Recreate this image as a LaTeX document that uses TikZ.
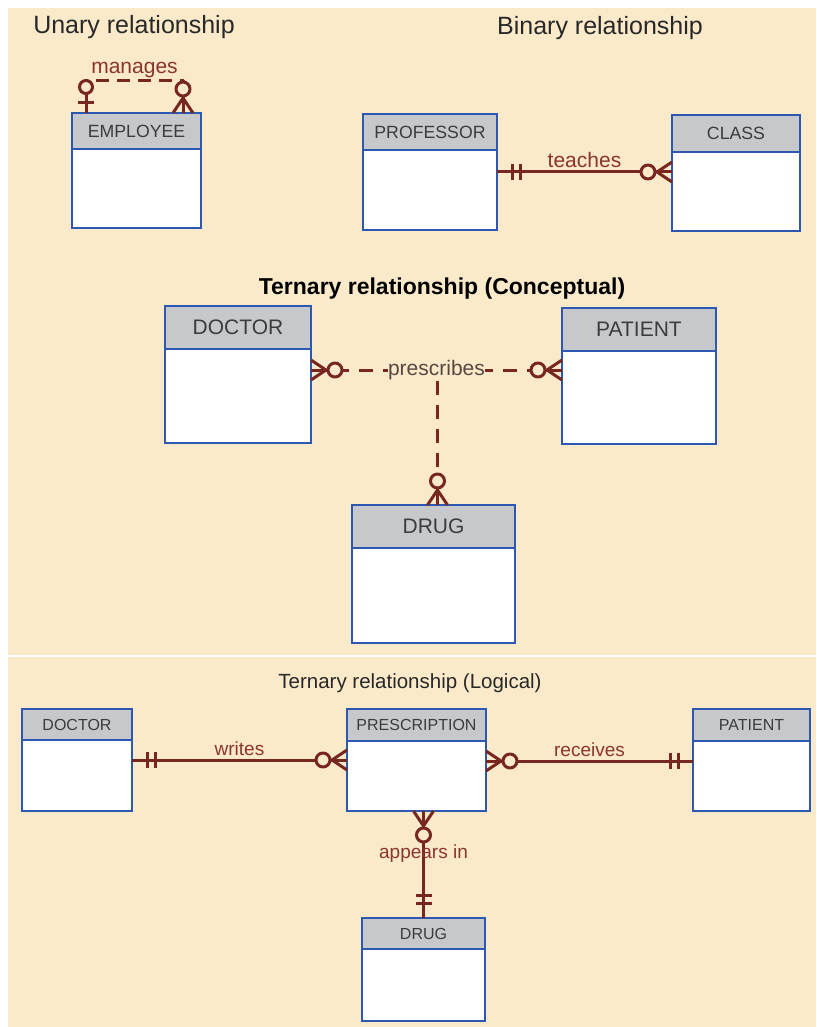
\documentclass[tikz,border=0pt]{standalone}
\usepackage{fontspec}
\setmainfont{Liberation Sans}
\usetikzlibrary{positioning,calc}

\definecolor{beige}{RGB}{250,234,202}
\definecolor{relcol}{RGB}{120,38,32}
\definecolor{lblcol}{RGB}{140,52,45}
\definecolor{presccol}{RGB}{85,72,66}
\definecolor{boxblue}{RGB}{45,88,178}
\definecolor{hdrgray}{RGB}{198,200,204}
\definecolor{txtgray}{RGB}{60,60,60}
\definecolor{ttlgray}{RGB}{40,40,40}

\newcommand{\ttlfont}{\fontsize{25}{30}\selectfont}
\newcommand{\ttlfontB}{\fontsize{23}{27}\selectfont\bfseries}
\newcommand{\ttlfontC}{\fontsize{20.5}{24}\selectfont}
\newcommand{\entfontA}{\fontsize{17.7}{20}\selectfont}
\newcommand{\entfontB}{\fontsize{21}{24}\selectfont}
\newcommand{\entfontC}{\fontsize{16}{19}\selectfont}
\newcommand{\lblfontA}{\fontsize{21}{24}\selectfont}
\newcommand{\lblfontB}{\fontsize{19}{22}\selectfont}

\tikzset{
  hdr/.style={draw=boxblue, line width=2pt, fill=hdrgray, inner sep=0pt, outer sep=0pt, text=txtgray},
  bdy/.style={draw=boxblue, line width=2pt, fill=white, inner sep=0pt, outer sep=0pt},
  conn/.style={draw=relcol, line width=3pt, line join=round},
  lbl/.style={text=lblcol, inner sep=0pt},
  onlyone/.pic={\draw[conn] (15,-8) -- (15,8); \draw[conn] (23,-8) -- (23,8);},
  zmany/.pic={\draw[conn] (0,-10) -- (15,0) -- (0,10); \draw[conn] (0,0) -- (17,0);
    \draw[conn, fill=beige] (24,0) circle (7pt);},
  zone/.pic={\draw[conn] (0,0) -- (19,0); \draw[conn] (10,-8) -- (10,8);
    \draw[conn, fill=beige] (26,0) circle (6.5pt);}
}

\begin{document}
\begin{tikzpicture}[x=1pt,y=-1pt]

\useasboundingbox (0,0) rectangle (816,1027);
\fill[white] (0,0) rectangle (816,1027);
\fill[beige] (8,8) rectangle (816,1027);
\draw[white, line width=2pt] (8,656) -- (816,656);

% titles
\node[font=\ttlfont, text=ttlgray] (tu) at (134,27) {Unary relationship};
\node[font=\ttlfont, text=ttlgray] (tb) at (600,28) {Binary relationship};
\node[font=\ttlfontB, text=black] (tc) at (442,289) {Ternary relationship (Conceptual)};
\node[font=\ttlfontC, text=ttlgray] (tl) at (410,683) {Ternary relationship (Logical)};

% unary
\node[hdr, minimum width=129pt, minimum height=36pt, font=\entfontA] (eh) at (136.5,131) {EMPLOYEE};
\node[bdy, minimum width=129pt, minimum height=79pt, below=0pt of eh] (eb) {};

% binary
\node[hdr, minimum width=134pt, minimum height=36pt, font=\entfontA] (ph) at (430,132) {PROFESSOR};
\node[bdy, minimum width=134pt, minimum height=80pt, below=0pt of ph] (pb) {};
\node[hdr, minimum width=128pt, minimum height=37pt, font=\entfontA] (ch) at (736,133.5) {CLASS};
\node[bdy, minimum width=128pt, minimum height=79pt, below=0pt of ch] (cb) {};

% ternary, conceptual
\node[hdr, minimum width=146pt, minimum height=43pt, font=\entfontB] (dch) at (238,327.5) {DOCTOR};
\node[bdy, minimum width=146pt, minimum height=94pt, below=0pt of dch] (dcb) {};
\node[hdr, minimum width=154pt, minimum height=43pt, font=\entfontB] (pch) at (639,329.5) {PATIENT};
\node[bdy, minimum width=154pt, minimum height=93pt, below=0pt of pch] (pcb) {};
\node[hdr, minimum width=163pt, minimum height=43pt, font=\entfontB] (dgh) at (433.5,526.5) {DRUG};
\node[bdy, minimum width=163pt, minimum height=95pt, below=0pt of dgh] (dgb) {};

% ternary, logical
\node[hdr, minimum width=110pt, minimum height=31pt, font=\entfontC] (ldh) at (77,724.5) {DOCTOR};
\node[bdy, minimum width=110pt, minimum height=71pt, below=0pt of ldh] (ldb) {};
\node[hdr, minimum width=139pt, minimum height=32pt, font=\entfontC] (prh) at (416.5,725) {PRESCRIPTION};
\node[bdy, minimum width=139pt, minimum height=70pt, below=0pt of prh] (prb) {};
\node[hdr, minimum width=117pt, minimum height=32pt, font=\entfontC] (lph) at (751.5,725) {PATIENT};
\node[bdy, minimum width=117pt, minimum height=70pt, below=0pt of lph] (lpb) {};
\node[hdr, minimum width=123pt, minimum height=31pt, font=\entfontC] (lgh) at (423.5,933.5) {DRUG};
\node[bdy, minimum width=123pt, minimum height=72pt, below=0pt of lgh] (lgb) {};

% manages
\coordinate (m1) at ($(eh.north west)+(14,0)$);
\coordinate (m2) at ($(eh.north east)+(-18,0)$);
\draw[conn, dash pattern=on 13pt off 8pt] (m1) -- ++(0,-32) coordinate (m3) -- (m3 -| m2)
  node[lbl, font=\lblfontA, above=2pt, midway] {manages} -- (m2);
\pic[rotate=90] at (m1) {zone};
\pic[rotate=90] at (m2) {zmany};

% teaches
\draw[conn] ($(pb.north east)+(0,22)$) coordinate (t1) -- (t1 -| cb.west) coordinate (t2)
  node[lbl, font=\lblfontA, above=3pt, midway] {teaches};
\pic at (t1) {onlyone};
\pic[rotate=180] at (t2) {zmany};

% prescribes
\draw[conn, dash pattern=on 14pt off 10pt] ($(dcb.north east)+(0,21)$) coordinate (p1) -- (p1 -| pcb.west) coordinate (p2)
  node[midway, fill=beige, inner sep=0pt, text=presccol, font=\lblfontA] (presc) {prescribes};
\coordinate (p3) at ($(dgh.north)+(4,0)$);
\draw[conn, dash pattern=on 14pt off 10pt] (p3 |- presc.south) -- (p3);
\pic at (p1) {zmany};
\pic[rotate=180] at (p2) {zmany};
\pic[rotate=90] at (p3) {zmany};

% writes, receives, appears in
\draw[conn] ($(ldb.north east)+(0,20)$) coordinate (w1) -- (w1 -| prb.west) coordinate (w2)
  node[lbl, font=\lblfontB, above=3pt, midway] {writes};
\pic at (w1) {onlyone};
\pic[rotate=180] at (w2) {zmany};

\draw[conn] ($(prb.north east)+(0,20)$) coordinate (r1) -- (r1 -| lpb.west) coordinate (r2)
  node[lbl, font=\lblfontB, above=3pt, midway] {receives};
\pic at (r1) {zmany};
\pic[rotate=180] at (r2) {onlyone};

\draw[conn] (lgh.north) coordinate (a2) -- (a2 |- prb.south) coordinate (a1)
  node[lbl, font=\lblfontB, pos=0.6] {appears in};
\pic[rotate=-90] at (a1) {zmany};
\pic[rotate=90] at (a2) {onlyone};

\end{tikzpicture}
\end{document}
